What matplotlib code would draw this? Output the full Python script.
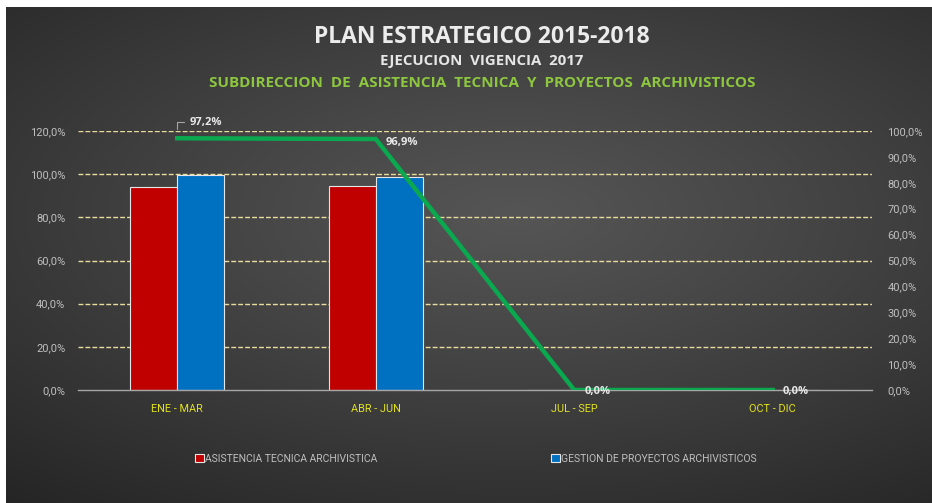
import numpy as np
import matplotlib.pyplot as plt
from matplotlib.patches import Patch

# Datos del grafico
trimestres = ["ENE - MAR", "ABR - JUN", "JUL - SEP", "OCT - DIC"]
asistencia = [94.1, 94.7, 0.0, 0.0]      # ASISTENCIA TECNICA ARCHIVISTICA (eje izq.)
gestion = [99.5, 98.6, 0.0, 0.0]         # GESTION DE PROYECTOS ARCHIVISTICOS (eje izq.)
ejecucion = [97.2, 96.9, 0.0, 0.0]       # linea verde (eje der.)
ticks_izq = [0, 20, 40, 60, 80, 100, 120]
ticks_der = [0, 10, 20, 30, 40, 50, 60, 70, 80, 90, 100]

TITLE_FONT = ["Open Sans", "DejaVu Sans"]
NARROW_FONT = ["Liberation Sans Narrow", "Roboto", "DejaVu Sans"]

ROJO = "#c00000"
AZUL = "#0070c0"
VERDE = "#0aa84f"
GRIS_TXT = "#bfbfbf"
AMARILLO = "#e3e31c"
GRID = "#eadb9f"


def pct(v):
    return f"{v:.1f}%".replace(".", ",")


def fondo(fig):
    """Fondo gris oscuro con degradado radial."""
    W, H = 932, 503
    bg = fig.add_axes([6 / W, 0, 1 - 6 / W, (H - 7) / H], zorder=-10)
    yy, xx = np.mgrid[0:1:300j, 0:1:560j]
    r = np.sqrt(((xx - 0.55) / 0.8) ** 2 + ((yy - 0.42) / 0.7) ** 2)
    r = np.clip(r / r.max(), 0, 1)
    c0, c1 = 0x55, 0x25
    val = (c0 + (c1 - c0) * r ** 1.1) / 255.0
    img = np.dstack([val, val, val])
    bg.imshow(img, aspect="auto", extent=[0, 1, 1, 0])
    bg.axis("off")


def main():
    W, H = 932, 503
    fig = plt.figure(figsize=(W / 100, H / 100), dpi=100, facecolor="white")
    fondo(fig)

    # titulos
    xc = 482 / W
    fig.text(xc, 1 - 37 / H, "PLAN ESTRATEGICO 2015-2018", ha="center", va="center",
             fontsize=16.5, fontweight="bold", color="#ececec", family=TITLE_FONT)
    fig.text(xc, 1 - 61 / H, "EJECUCION  VIGENCIA  2017", ha="center", va="center",
             fontsize=10.8, fontweight="bold", color="#e6e6e6", family=TITLE_FONT)
    fig.text(xc, 1 - 83 / H, "SUBDIRECCION  DE  ASISTENCIA  TECNICA  Y  PROYECTOS  ARCHIVISTICOS",
             ha="center", va="center", fontsize=11, fontweight="bold", color="#8dc63f",
             family=TITLE_FONT)

    ax = fig.add_axes([78 / W, 1 - 390 / H, 794 / W, 259 / H])
    ax.patch.set_alpha(0)
    x = np.arange(len(trimestres))
    w = 0.237
    ax.bar(x - w / 2, asistencia, w, color=ROJO, edgecolor="#e6e6e6", linewidth=0.8, zorder=3)
    ax.bar(x + w / 2, gestion, w, color=AZUL, edgecolor="#e6e6e6", linewidth=0.8, zorder=3)

    ax.set_xlim(-0.5, len(trimestres) - 0.5)
    ax.set_ylim(0, 120)
    ax.set_yticks(ticks_izq)
    ax.set_yticklabels([pct(v) for v in ticks_izq], family=NARROW_FONT)
    ax.set_xticks(x)
    ax.set_xticklabels(trimestres, family=NARROW_FONT)
    ax.tick_params(axis="y", length=0, pad=9, labelsize=8, labelcolor=GRIS_TXT)
    ax.tick_params(axis="x", length=0, pad=10, labelsize=7.8, labelcolor=AMARILLO)
    for s in ["top", "left", "right"]:
        ax.spines[s].set_visible(False)
    ax.spines["bottom"].set_color("#a6a6a6")
    ax.spines["bottom"].set_linewidth(1)
    ax.spines["bottom"].set_zorder(4)
    for v in ticks_izq[1:]:
        ax.axhline(v, color=GRID, linestyle=(0, (3.5, 1.5)), linewidth=1, zorder=1)

    # eje secundario
    ax2 = ax.twinx()
    ax2.set_ylim(0, 100)
    ax2.set_yticks(ticks_der)
    ax2.set_yticklabels([pct(v) for v in ticks_der], family=NARROW_FONT)
    ax2.tick_params(axis="y", length=0, pad=11, labelsize=8, labelcolor=GRIS_TXT)
    for s in ax2.spines.values():
        s.set_visible(False)
    ax2.plot(x, ejecucion, color=VERDE, linewidth=3.2, solid_joinstyle="miter", zorder=5)

    etiqueta = dict(fontsize=8, fontweight="bold", color="#e8e8e8", family=TITLE_FONT, zorder=6)
    ax2.annotate(pct(ejecucion[0]), xy=(x[0], ejecucion[0]), xytext=(12, 16),
                 textcoords="offset pixels", ha="left", va="center", **etiqueta,
                 arrowprops=dict(arrowstyle="-", color="#a6a6a6", lw=0.8,
                                 connectionstyle="angle,angleA=0,angleB=90,rad=0",
                                 shrinkA=2, shrinkB=7))
    ax2.annotate(pct(ejecucion[1]), xy=(x[1], ejecucion[1]), xytext=(10, -3),
                 textcoords="offset pixels", ha="left", va="center", **etiqueta)
    for i in (2, 3):
        ax2.annotate(pct(ejecucion[i]), xy=(x[i], ejecucion[i]), xytext=(10, -1),
                     textcoords="offset pixels", ha="left", va="center", **etiqueta)

    # leyenda
    handles = [Patch(facecolor=ROJO, edgecolor="#e6e6e6", linewidth=0.8),
               Patch(facecolor=AZUL, edgecolor="#e6e6e6", linewidth=0.8)]
    labels = ["ASISTENCIA TECNICA ARCHIVISTICA", "GESTION DE PROYECTOS ARCHIVISTICOS"]
    leg = fig.legend(handles, labels, loc="center", bbox_to_anchor=(476 / W, 1 - 459 / H),
                     ncol=2, frameon=False, handlelength=0.8, handleheight=0.8,
                     handletextpad=0.15, columnspacing=16.7,
                     prop={"family": NARROW_FONT, "size": 7.5})
    for t in leg.get_texts():
        t.set_color(GRIS_TXT)

    fig.savefig("out.png", dpi=100, facecolor="white")


if __name__ == "__main__":
    main()
